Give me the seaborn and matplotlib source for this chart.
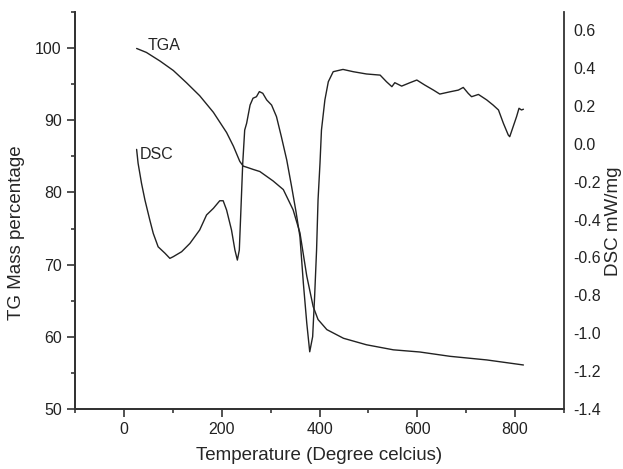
import matplotlib
matplotlib.use("Agg")
import matplotlib.pyplot as plt
import seaborn as sns
from matplotlib.ticker import MultipleLocator, FormatStrFormatter

# -----------------------------
# Data
# -----------------------------
tga_temp = [26, 46, 74, 101, 128, 155, 183, 210, 224, 237, 244, 251, 264, 278,
            305, 326, 346, 360, 374, 387, 397, 415, 449, 496, 551, 605, 667,
            742, 817]
tga_mass = [99.95, 99.4, 98.2, 96.9, 95.2, 93.4, 91.1, 88.3, 86.4, 84.3, 83.65,
            83.5, 83.2, 82.9, 81.6, 80.4, 77.6, 74.4, 68.4, 64.2, 62.4, 61.0,
            59.8, 58.9, 58.2, 57.9, 57.3, 56.8, 56.1]

dsc_temp = [26, 29, 36, 43, 53, 60, 70, 84, 94, 101, 118, 135, 155, 169, 183,
            196, 203, 210, 220, 227, 232, 236, 239, 243, 247, 251, 258, 264,
            271, 277, 284, 292, 302, 312, 322, 333, 343, 352, 360, 367, 374,
            380, 386, 390, 394, 397, 401, 404, 411, 418, 428, 448, 469, 496,
            524, 537, 548, 554, 568, 585, 599, 615, 633, 646, 667, 684, 694,
            704, 711, 725, 742, 755, 766, 776, 786, 789, 796, 803, 808, 813,
            817]
dsc_signal = [-0.030, -0.103, -0.209, -0.297, -0.403, -0.473, -0.544, -0.578,
              -0.605, -0.596, -0.570, -0.526, -0.455, -0.376, -0.341, -0.301,
              -0.301, -0.350, -0.455, -0.561, -0.614, -0.561, -0.367, -0.103,
              0.072, 0.108, 0.204, 0.240, 0.248, 0.275, 0.266, 0.231, 0.204,
              0.143, 0.037, -0.086, -0.227, -0.360, -0.491, -0.737, -0.948,
              -1.098, -1.018, -0.807, -0.561, -0.297, -0.103, 0.072, 0.231,
              0.327, 0.380, 0.392, 0.380, 0.368, 0.362, 0.327, 0.301, 0.322,
              0.304, 0.322, 0.336, 0.310, 0.283, 0.262, 0.274, 0.283, 0.297,
              0.266, 0.248, 0.260, 0.231, 0.204, 0.178, 0.108, 0.046, 0.037,
              0.090, 0.143, 0.187, 0.178, 0.182]

# -----------------------------
# Style
# -----------------------------
sns.set_style("ticks")
plt.rcParams["font.family"] = ["Liberation Sans", "DejaVu Sans"]
plt.rcParams["axes.unicode_minus"] = False
line_color = "#222222"

fig = plt.figure(figsize=(6.23, 4.69), dpi=100)
ax = fig.add_axes([0.1204, 0.1279, 0.7849, 0.8465])

# TGA on the left axis
sns.lineplot(x=tga_temp, y=tga_mass, ax=ax, color=line_color, linewidth=1.0)
ax.set_xlim(-100, 900)
ax.set_ylim(50, 105)
ax.xaxis.set_major_locator(MultipleLocator(200))
ax.xaxis.set_minor_locator(MultipleLocator(100))
ax.yaxis.set_minor_locator(MultipleLocator(5))
ax.set_yticks([50, 60, 70, 80, 90, 100])
ax.tick_params(which="major", length=6, width=1.1, labelsize=11.5, colors="#222222")
ax.tick_params(which="minor", length=3, width=1.1)
ax.set_xlabel("Temperature (Degree celcius)", fontsize=13.5, labelpad=7)
ax.set_ylabel("TG Mass percentage", fontsize=13.5)
ax.yaxis.set_label_coords(-0.102, 0.443)

# DSC on the right axis
ax2 = ax.twinx()
sns.lineplot(x=dsc_temp, y=dsc_signal, ax=ax2, color=line_color, linewidth=1.0)
ax2.set_ylim(-1.4, 0.695)
ax2.yaxis.set_major_locator(MultipleLocator(0.2))
ax2.yaxis.set_major_formatter(FormatStrFormatter("%.1f"))
ax2.tick_params(axis="y", length=0, pad=7, labelsize=11.5, colors="#222222")
ax2.set_ylabel("DSC mW/mg", fontsize=13.5)
ax2.yaxis.set_label_coords(1.084, 0.474)

for a in (ax, ax2):
    a.spines["top"].set_visible(False)
    for s in ("left", "right", "bottom"):
        a.spines[s].set_linewidth(1.3)
        a.spines[s].set_color("#333333")
ax.spines["right"].set_visible(False)

ax.text(49, 100.4, "TGA", fontsize=11.5, va="center", ha="left")
ax.text(33, 85.3, "DSC", fontsize=11.5, va="center", ha="left")

fig.savefig("out.png", dpi=100)
plt.close(fig)
